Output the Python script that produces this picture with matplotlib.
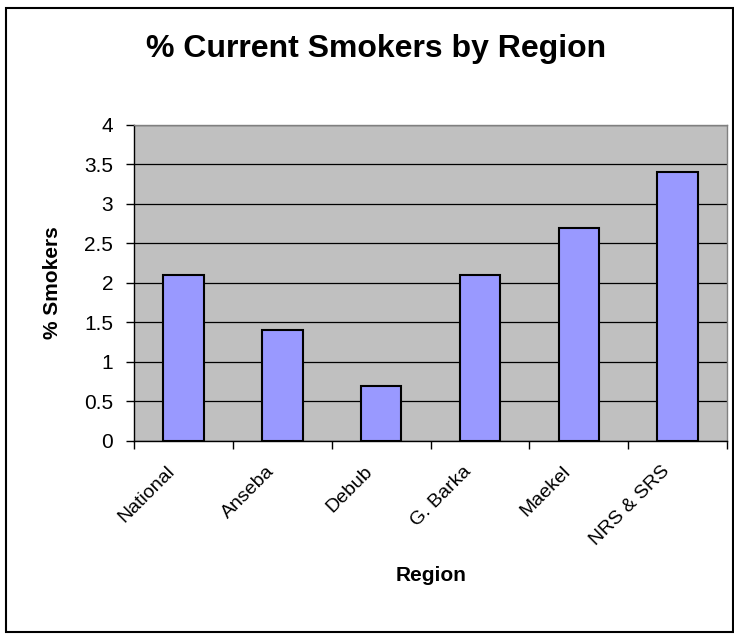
import numpy as np
import matplotlib as mpl
mpl.use('Agg')
import matplotlib.pyplot as plt
import matplotlib.transforms as mtransforms
from matplotlib.patches import Rectangle

# Current smokers (%) per region
regions = ['National', 'Anseba', 'Debub', 'G. Barka', 'Maekel', 'NRS & SRS']
smokers = [2.1, 1.4, 0.7, 2.1, 2.7, 3.4]
y_ticks = [0, 0.5, 1, 1.5, 2, 2.5, 3, 3.5, 4]
y_tick_labels = ['0', '0.5', '1', '1.5', '2', '2.5', '3', '3.5', '4']

plt.rcParams['font.family'] = ['Liberation Sans', 'DejaVu Sans']

fig = plt.figure(figsize=(7.34, 6.39), dpi=100)
fig.patch.set_facecolor('white')
# chart border
fig.patches.append(Rectangle((0.008, 0.011), 0.990, 0.977, transform=fig.transFigure,
                             fill=False, edgecolor='black', linewidth=1.5))

ax = fig.add_axes([0.1826, 0.3099, 0.808, 0.4945])
ax.set_facecolor('#C0C0C0')

x = np.arange(len(regions)) + 0.5
ax.bar(x, smokers, width=0.41, color='#9999FF', edgecolor='black', linewidth=1.5, zorder=3)

ax.set_xlim(0, len(regions))
ax.set_ylim(0, 4)
ax.set_yticks(y_ticks)
ax.set_yticklabels(y_tick_labels, fontsize=15)
ax.yaxis.grid(True, color='black', linewidth=0.9, zorder=0)
ax.set_axisbelow(True)

# Category boundaries get the tick marks, labels sit in the middle
ax.set_xticks(np.arange(len(regions) + 1))
ax.set_xticklabels([])
ax.set_xticks(x, minor=True)
ax.set_xticklabels(regions, minor=True, rotation=45, ha='right', va='center',
                   rotation_mode='anchor', fontsize=14)
ax.tick_params(axis='x', which='minor', length=0, pad=20)
ax.tick_params(axis='x', which='major', length=6, width=1, direction='out')
ax.tick_params(axis='y', length=6, width=1, direction='out', pad=9)

shift = mtransforms.ScaledTranslation(-11 / 100, 0, fig.dpi_scale_trans)
for lbl in ax.get_xticklabels(minor=True):
    lbl.set_transform(lbl.get_transform() + shift)

for side in ['left', 'bottom']:
    ax.spines[side].set_color('black')
    ax.spines[side].set_linewidth(1)
for side in ['top', 'right']:
    ax.spines[side].set_color('#808080')
    ax.spines[side].set_linewidth(1)

ax.set_ylabel('% Smokers', fontsize=15, fontweight='bold', labelpad=16)
ax.set_xlabel('Region', fontsize=15, fontweight='bold', labelpad=12)
fig.text(0.512, 0.923, '% Current Smokers by Region', ha='center', va='center',
         fontsize=23, fontweight='bold')

plt.savefig('out.png', dpi=100)
plt.close(fig)
